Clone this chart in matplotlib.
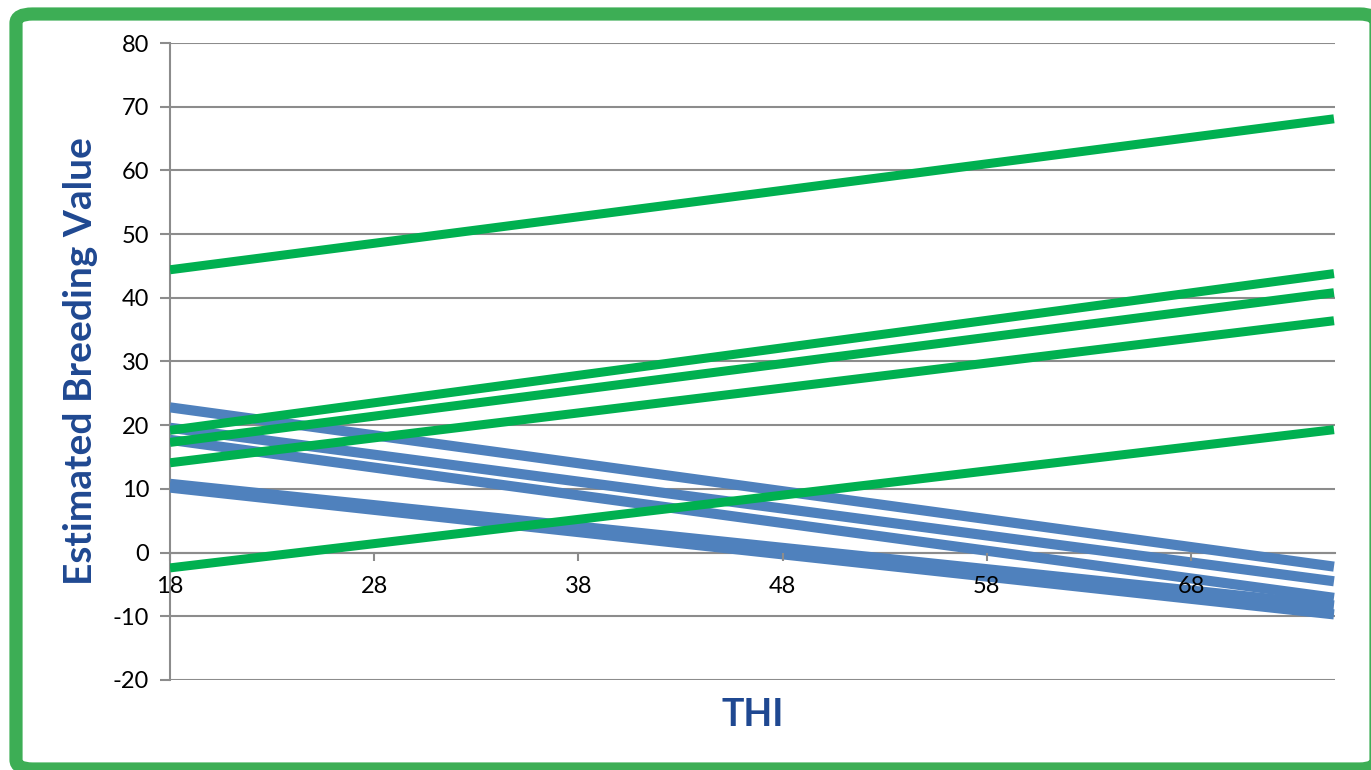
import matplotlib.pyplot as plt
from matplotlib.patches import FancyBboxPatch

# THI range of each regression line
thi = [18, 75]

# estimated breeding values at THI 18 and THI 75
green_lines = [
    [44.4, 68.1],
    [19.2, 43.8],
    [17.3, 40.8],
    [14.1, 36.4],
    [-2.4, 19.3],
]
blue_lines = [
    [22.8, -2.2],
    [19.6, -4.5],
    [17.7, -7.1],
    [10.8, -8.3],
    [10.2, -9.7],
]

x_ticks = [18, 28, 38, 48, 58, 68]
y_ticks = [-20, -10, 0, 10, 20, 30, 40, 50, 60, 70, 80]

W, H = 1371, 770
plt.rcParams['font.family'] = ['Lato', 'DejaVu Sans']
plt.rcParams['axes.unicode_minus'] = False
fig = plt.figure(figsize=(W / 100, H / 100), dpi=100)

# green rounded frame (partly cut off on the right and bottom)
frame = FancyBboxPatch((16 / W, 1 - 769 / H), 1360 / W, 755 / H,
                       boxstyle="round,pad=0,rounding_size=0.012",
                       transform=fig.transFigure, facecolor='white',
                       edgecolor='#3DAE55', linewidth=9.5, zorder=-5)
fig.patches.append(frame)

ax = fig.add_axes([170 / W, 1 - 680 / H, (1335 - 170) / W, (680 - 43) / H])
ax.set_facecolor('none')
ax.set_zorder(2)

for ys in blue_lines:
    ax.plot(thi, ys, color='#4F81BD', lw=7.3, solid_capstyle='butt', zorder=3)
for ys in green_lines:
    ax.plot(thi, ys, color='#00B050', lw=6.5, solid_capstyle='butt', zorder=4)

ax.set_xlim(18, 75.05)
ax.set_ylim(-20, 80)
ax.set_yticks(y_ticks)
ax.set_xticks(x_ticks)
ax.grid(axis='y', color='#8C8C8C', lw=1.5, zorder=1)

for s in ['top', 'right']:
    ax.spines[s].set_visible(False)
ax.spines['bottom'].set_position(('data', 0))
ax.spines['bottom'].set_zorder(1.5)
for s in ['left', 'bottom']:
    ax.spines[s].set_color('#8C8C8C')
    ax.spines[s].set_linewidth(1.5)

ax.tick_params(axis='y', length=7, width=1.5, color='#8C8C8C', labelsize=17, pad=8)
ax.tick_params(axis='x', length=6, width=1.5, color='#8C8C8C', labelsize=17, pad=11)
ax.xaxis.set_zorder(5)  # tick labels sit on top of the lines

ax.set_xlabel('THI', fontsize=27, fontweight='bold', color='#1F4891')
ax.xaxis.set_label_coords(0.5, -0.028)
ax.set_ylabel('Estimated Breeding Value', fontsize=28, fontweight='bold',
              color='#1F4891')
ax.yaxis.set_label_coords(-0.077, 0.5)
ax.yaxis.label.set_va('center')

fig.savefig('out.png', dpi=100)
